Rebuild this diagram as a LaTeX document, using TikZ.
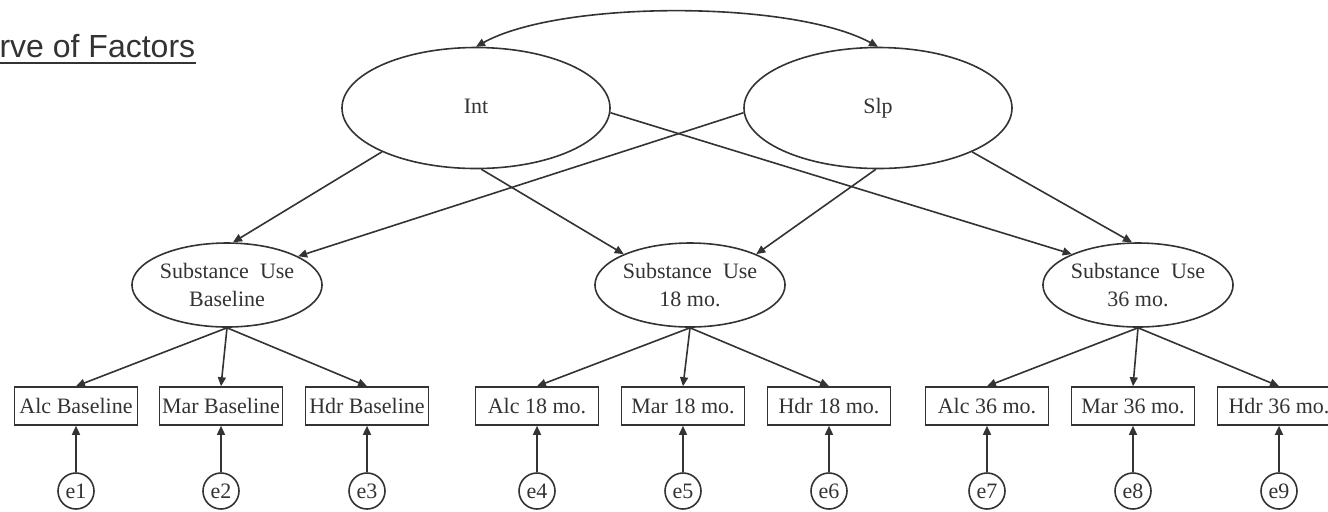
\documentclass[tikz,border=0pt]{standalone}
\usepackage{fontspec}
\setmainfont{Liberation Serif}
\newfontfamily\titlefont{Liberation Sans}
\usetikzlibrary{arrows.meta, shapes.geometric}

\begin{document}
\begin{tikzpicture}[x=.5pt, y=-.5pt, line width=.8pt, color=black!80,
  >={Triangle[length=4.5pt, width=4pt]},
  every node/.style={font=\fontsize{11}{14}\selectfont, inner sep=0pt},
  factor/.style={ellipse, draw, text height=1.6ex, text depth=.4ex, minimum width=134pt, minimum height=60.5pt},
  occasion/.style={ellipse, draw, align=center, minimum width=92pt, minimum height=42pt},
  indicator/.style={rectangle, draw, minimum width=61.5pt, minimum height=19pt},
  resid/.style={circle, draw, minimum size=18pt}]
\clip (0,0) rectangle (1328,511);

\node[anchor=base east, font=\titlefont\fontsize{16}{19}\selectfont] (title) at (196,57) {rve of Factors};
\draw[line width=1pt] ([yshift=-3pt]title.base west) -- ([yshift=-3pt]title.base east);

% growth factors
\node[factor] (int) at (476,108) {Int};
\node[factor] (slp) at (878,108) {Slp};
\draw[<->] (int.north) .. controls (560,0) and (792,0) .. (slp.north);

% substance use at each wave
\node[occasion] (su1) at (227,285) {Substance\ \ Use\\Baseline};
\node[occasion] (su2) at (690,285) {Substance\ \ Use\\18 mo.};
\node[occasion] (su3) at (1138,285) {Substance\ \ Use\\36 mo.};

\draw[->] (int.205) -- (su1.82);
\draw[->] (int.275) -- (su2.155);
\draw[->] (int.358) -- (su3.155);
\draw[->] (slp.182) -- (su1.22);
\draw[->] (slp.268) -- (su2.25);
\draw[->] (slp.335) -- (su3.98);

% indicators and residuals
\foreach \n/\x/\lab in {1/76/Alc Baseline, 2/221/Mar Baseline, 3/367/Hdr Baseline,
    4/537/Alc 18 mo., 5/683/Mar 18 mo., 6/829/Hdr 18 mo.,
    7/987/Alc 36 mo., 8/1133/Mar 36 mo., 9/1279/Hdr 36 mo.}
{
    \node[indicator] (m\n) at (\x,406) {\lab};
    \node[resid] (e\n) at (\x,491) {e\n};
    \draw[->] (e\n) -- (m\n);
}

\foreach \s/\list in {1/{1,2,3}, 2/{4,5,6}, 3/{7,8,9}}
    \foreach \m in \list
        \draw[->] (su\s.south) -- (m\m.north);
\end{tikzpicture}
\end{document}
